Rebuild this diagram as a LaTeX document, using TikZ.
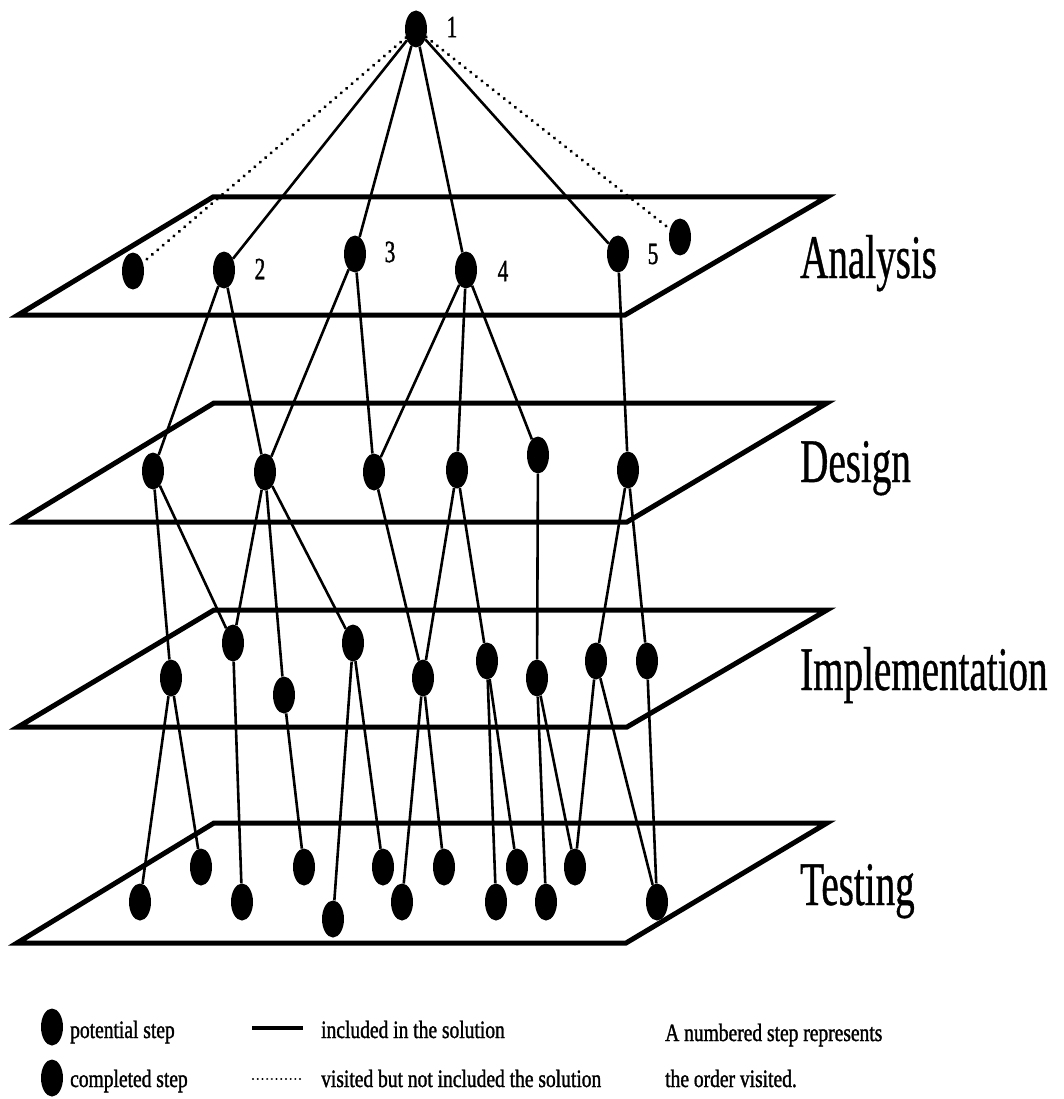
\documentclass[tikz,border=0pt]{standalone}
\usepackage{fontspec}
\setmainfont{Liberation Serif}
\newfontfamily\labfont[FakeStretch=0.63,FakeBold=0.6]{Liberation Serif}
\newfontfamily\numfont[FakeStretch=0.68,FakeBold=1.2]{Liberation Serif}
\newfontfamily\legfont[FakeStretch=0.78,FakeBold=1.3]{Liberation Serif}
\usetikzlibrary{shapes.geometric}
\begin{document}
\begin{tikzpicture}[x=1pt,y=-1pt,
  stepnode/.style={ellipse,fill=black,draw=none,minimum width=22pt,minimum height=37pt,inner sep=0pt},
  plane/.style={line width=5pt,line join=miter},
  link/.style={line width=2.6pt},
  visit/.style={line width=3.4pt,dash pattern=on 0.1pt off 7pt,line cap=round},
  legdots/.style={line width=2.2pt,dash pattern=on 0.1pt off 4.6pt,line cap=round},
  layername/.style={anchor=base west,inner sep=0pt,font=\labfont\fontsize{62}{62}\selectfont},
  ordernum/.style={inner sep=0pt,font=\numfont\fontsize{31}{31}\selectfont},
  legtext/.style={anchor=base west,inner sep=0pt,font=\legfont\fontsize{25}{25}\selectfont}]
\useasboundingbox (0,0) rectangle (1063,1099);

% planes
\draw[plane] (213,197) -- (827,197) -- (625,315) -- (18,315) -- cycle;
\draw[plane] (214,403) -- (827,403) -- (627,522) -- (18,522) -- cycle;
\draw[plane] (214,610) -- (827,610) -- (627,727) -- (18,727) -- cycle;
\draw[plane] (214,823) -- (827,823) -- (626,943) -- (17,943) -- cycle;

% layer names
\node[layername] (nA) at (800,278) {Analysis};
\node[layername] (nD) at (800,482) {Design};
\node[layername] (nI) at (800,690) {Implementation};
\node[layername] (nT) at (800,905) {Testing};

% root
\node[stepnode] (n1) at (416,29) {};
\node[ordernum] (l1) at (452,27) {1};

% analysis
\node[stepnode] (a0) at (133,271) {};
\node[stepnode] (a2) at (224,270) {};
\node[stepnode] (a3) at (355,254) {};
\node[stepnode] (a4) at (466,270) {};
\node[stepnode] (a5) at (618,254) {};
\node[stepnode] (a6) at (680,237) {};
\node[ordernum] (l2) at (260,269) {2};
\node[ordernum] (l3) at (390,252) {3};
\node[ordernum] (l4) at (503,271) {4};
\node[ordernum] (l5) at (653,254) {5};

% design
\node[stepnode] (d1) at (153,471) {};
\node[stepnode] (d2) at (265,472) {};
\node[stepnode] (d3) at (374,472) {};
\node[stepnode] (d4) at (457,470) {};
\node[stepnode] (d5) at (538,455) {};
\node[stepnode] (d6) at (628,470) {};

% implementation
\node[stepnode] (i1) at (171,678) {};
\node[stepnode] (i2) at (233,643) {};
\node[stepnode] (i3) at (284,695) {};
\node[stepnode] (i4) at (353,643) {};
\node[stepnode] (i5) at (423,678) {};
\node[stepnode] (i6) at (487,661) {};
\node[stepnode] (i7) at (537,678) {};
\node[stepnode] (i8) at (596,661) {};
\node[stepnode] (i9) at (647,661) {};

% testing
\node[stepnode] (t1) at (140,902) {};
\node[stepnode] (t2) at (201,867) {};
\node[stepnode] (t3) at (242,902) {};
\node[stepnode] (t4) at (304,867) {};
\node[stepnode] (t5) at (333,919) {};
\node[stepnode] (t6) at (383,867) {};
\node[stepnode] (t7) at (402,902) {};
\node[stepnode] (t8) at (444,867) {};
\node[stepnode] (t9) at (496,902) {};
\node[stepnode] (t10) at (517,867) {};
\node[stepnode] (t11) at (546,902) {};
\node[stepnode] (t12) at (575,867) {};
\node[stepnode] (t13) at (657,902) {};

% connectors
\draw[visit] (n1) -- (a0);
\draw[visit] (n1) -- (a6);
\foreach \u/\v in {n1/a2,n1/a3,n1/a4,n1/a5,
  a2/d1,a2/d2,a3/d2,a3/d3,a4/d3,a4/d4,a4/d5,a5/d6,
  d1/i1,d1/i2,d2/i2,d2/i3,d2/i4,d3/i5,d4/i5,d4/i6,d5/i7,d6/i8,d6/i9,
  i1/t1,i1/t2,i2/t3,i3/t4,i4/t5,i4/t6,i5/t7,i5/t8,i6/t9,i6/t10,
  i7/t11,i7/t12,i8/t12,i8/t13,i9/t13}
  \draw[link] (\u) -- (\v);

% legend
\node[stepnode] (lp) at (52,1027) {};
\node[stepnode] (lc) at (52,1078) {};
\node[legtext] (tp) at (70,1038) {potential step};
\node[legtext] (tc) at (70,1087) {completed step};
\coordinate (s1) at (252,1028);
\coordinate (s2) at (303,1028);
\draw[line width=4pt] (s1) -- (s2);
\coordinate (v1) at (253,1079);
\coordinate (v2) at (300,1079);
\draw[legdots] (v1) -- (v2);
\node[legtext] (ts) at (321,1038) {included in the solution};
\node[legtext] (tv) at (321,1087) {visited but not included the solution};
\node[legtext] (tn1) at (665,1041) {A numbered step represents};
\node[legtext] (tn2) at (665,1087) {the order visited.};
\end{tikzpicture}
\end{document}
